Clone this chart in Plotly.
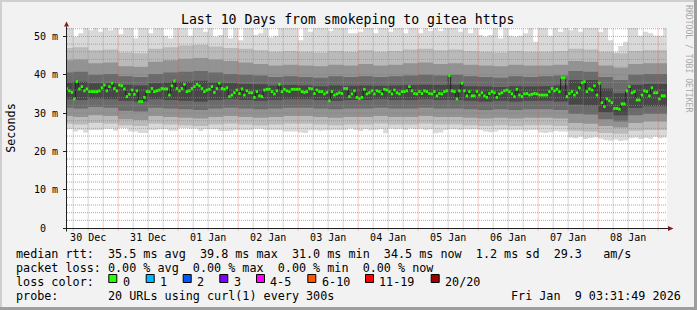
import pandas as pd
import plotly.graph_objects as go

# ---------------- data ----------------
# hourly median RTT (ms), first hour starts 2025-12-30 03:00
median_ms = [
    36.4, 35.8, 35.4, 33.7, 38.2, 36.3, 36.9, 35.8, 36.3, 35.6, 35.6, 35.6, 35.6, 35.8, 36.6, 37.3, 35.8, 36.9, 37.8, 36.4,
    35.8, 37.3, 37.1, 36.3, 34.3, 34.9, 36.0, 34.9, 35.8, 33.0, 33.0, 34.1, 35.6, 35.6, 36.4, 35.6, 35.8, 36.0, 36.4, 36.3,
    36.3, 34.7, 37.1, 38.4, 36.4, 35.8, 36.4, 37.5, 35.6, 35.8, 36.4, 36.9, 37.5, 37.1, 36.4, 35.6, 36.0, 36.2, 36.9, 35.4,
    36.4, 37.8, 36.4, 36.2, 36.6, 34.3, 34.7, 35.3, 36.0, 35.1, 36.3, 34.7, 35.8, 35.3, 35.3, 34.1, 35.6, 34.5, 34.3, 36.0,
    36.2, 36.2, 35.6, 35.0, 35.8, 37.5, 35.6, 36.2, 35.8, 35.6, 36.2, 36.2, 36.2, 36.2, 35.6, 35.4, 35.6, 36.4, 36.3, 35.1,
    36.0, 35.6, 35.6, 35.0, 35.4, 33.2, 35.6, 34.7, 35.0, 35.3, 35.1, 36.4, 36.4, 34.3, 35.0, 35.8, 34.1, 33.8, 34.1, 36.2,
    35.0, 35.3, 35.8, 35.0, 35.8, 35.6, 35.0, 36.2, 36.0, 35.6, 35.0, 36.0, 35.3, 35.0, 35.6, 35.6, 35.8, 36.9, 35.8, 35.1,
    35.0, 35.6, 35.1, 35.8, 35.6, 35.1, 35.0, 35.6, 34.5, 35.1, 35.0, 35.6, 35.8, 39.8, 35.8, 35.6, 33.7, 35.8, 37.8, 35.8,
    34.5, 35.6, 34.5, 34.5, 35.6, 34.7, 35.3, 34.5, 34.1, 35.1, 35.6, 35.3, 34.1, 35.0, 35.3, 35.8, 36.0, 35.6, 35.0, 34.3,
    36.2, 34.7, 34.3, 35.0, 35.1, 34.7, 34.9, 35.1, 35.0, 34.7, 34.7, 34.7, 34.7, 35.6, 36.4, 35.8, 36.2, 35.6, 39.2, 39.2,
    34.3, 35.1, 35.6, 34.7, 35.3, 36.6, 37.9, 38.2, 35.6, 36.3, 36.0, 37.1, 34.7, 37.8, 32.7, 31.7, 33.7, 33.2, 32.7, 31.2,
    31.2, 31.0, 32.4, 32.4, 35.8, 36.9, 35.3, 35.6, 33.4, 33.4, 34.7, 35.8, 35.6, 34.5, 36.6, 35.3, 35.3, 33.7, 34.5, 34.5,
]

# smoke envelope, 2-hour bins starting 2025-12-30 02:00 (max 60 = above the top of the graph)
smoke_max = [
    60, 60, 49.9, 50.8, 60, 51.6, 60, 51.2, 60, 51.6,
    60, 50.6, 60, 60, 49.5, 60, 60, 50.8, 60, 60,
    50.2, 49.5, 60, 60, 60, 50.2, 60, 60, 51.2, 60,
    49.9, 50.4, 60, 49.5, 60, 49.0, 60, 60, 50.4, 50.8,
    60, 49.7, 50.2, 60, 60, 60, 60, 49.0, 60, 51.2,
    60, 60, 60, 51.4, 60, 60, 60, 50.8, 50.8, 51.2,
    60, 60, 50.8, 60, 60, 51.2, 60, 60, 50.8, 60,
    60, 50.8, 60, 51.4, 60, 51.4, 60, 60, 60, 51.2,
    60, 50.8, 60, 50.4, 49.9, 50.4, 60, 49.5, 60, 50.2,
    49.9, 50.2, 50.8, 60, 48.6, 60, 60, 50.2, 60, 51.2,
    60, 51.6, 60, 51.2, 60, 60, 60, 51.2, 60, 49.0,
    46.0, 47.5, 48.6, 60, 60, 50.2, 51.2, 50.8, 50.2, 50.2,
    60,
]
smoke_min = [
    25.8, 25.8, 25.2, 25.6, 24.9, 25.6, 25.6, 25.6, 25.9, 25.9,
    25.4, 26.1, 26.1, 25.2, 25.2, 24.8, 24.8, 25.6, 25.6, 25.8,
    25.8, 25.4, 25.4, 26.1, 26.1, 26.0, 26.0, 25.3, 25.8, 25.8,
    25.8, 25.3, 25.3, 25.4, 25.6, 25.6, 25.6, 25.6, 25.9, 25.9,
    25.6, 25.6, 25.6, 25.5, 25.2, 25.2, 25.2, 24.9, 24.8, 25.5,
    25.5, 25.4, 25.5, 25.5, 25.6, 25.6, 25.6, 26.0, 25.6, 25.3,
    25.8, 25.5, 25.6, 25.8, 24.7, 26.0, 25.8, 25.9, 25.6, 26.0,
    25.8, 25.9, 25.6, 25.8, 24.7, 24.9, 25.6, 25.8, 25.8, 25.6,
    25.8, 25.7, 25.8, 25.6, 25.2, 25.0, 25.2, 25.6, 25.6, 25.5,
    25.6, 25.6, 25.4, 25.6, 25.6, 24.9, 24.8, 25.0, 25.3, 25.2,
    25.2, 23.6, 23.4, 23.8, 23.2, 23.5, 23.7, 23.3, 23.0, 22.8,
    23.1, 22.7, 22.9, 23.4, 23.6, 23.2, 23.5, 23.3, 23.8, 23.4,
    23.6,
]

# inner smoke bands, 6-hour bins starting 2025-12-30 00:00
band_u2 = [47.0, 47.2, 46.4, 46.6, 45.8, 45.6, 46.8, 47.2, 47.6, 47.8, 47.4, 47.0, 46.8, 46.4, 46.0, 46.2, 46.0, 45.8, 46.2, 46.0,
           46.4, 46.0, 46.2, 46.6, 46.8, 46.4, 46.6, 46.2, 46.0, 45.8, 46.2, 46.0, 46.0, 46.2, 46.8, 46.6, 46.0, 45.6, 46.2, 46.4, 46.4]
band_u3 = [43.8, 44.0, 43.0, 43.2, 42.2, 42.0, 43.4, 43.8, 44.2, 44.4, 44.0, 43.6, 43.2, 42.8, 42.4, 42.6, 42.4, 42.2, 42.6, 42.4,
           42.8, 42.4, 42.6, 43.0, 43.2, 42.8, 43.0, 42.6, 42.4, 42.2, 42.6, 42.4, 42.4, 42.6, 43.6, 43.4, 42.4, 41.8, 42.8, 43.0, 43.0]
band_u4 = [40.6, 40.8, 40.0, 40.2, 39.6, 39.4, 40.2, 40.6, 40.8, 41.0, 40.6, 40.2, 40.0, 39.8, 39.4, 39.6, 39.4, 39.2, 39.6, 39.4,
           39.6, 39.4, 39.6, 39.8, 40.0, 39.8, 40.0, 39.6, 39.4, 39.2, 39.6, 39.4, 39.6, 39.8, 41.0, 40.8, 39.4, 38.6, 40.0, 40.2, 40.2]
band_u5 = [38.0, 38.2, 37.8, 37.8, 37.4, 37.2, 37.8, 38.0, 38.2, 38.4, 38.0, 37.8, 37.6, 37.5, 37.2, 37.3, 37.2, 37.0, 37.2, 37.1,
           37.2, 37.1, 37.2, 37.3, 37.4, 37.3, 37.4, 37.0, 36.9, 36.8, 37.0, 36.9, 37.0, 37.2, 38.6, 38.6, 36.4, 35.2, 37.4, 37.6, 37.6]
band_l5 = [33.6, 33.4, 33.8, 33.6, 33.2, 33.0, 33.6, 33.4, 33.2, 33.0, 33.4, 33.6, 33.4, 33.2, 33.4, 33.6, 33.6, 33.4, 33.2, 33.4,
           33.4, 33.6, 33.4, 33.4, 33.6, 33.4, 33.4, 33.2, 33.0, 33.2, 33.0, 33.2, 33.2, 33.0, 32.2, 32.0, 30.2, 29.4, 31.4, 31.8, 31.8]
band_l4 = [31.4, 31.2, 31.6, 31.4, 30.6, 30.4, 31.4, 31.2, 31.0, 30.8, 31.2, 31.4, 31.2, 31.0, 31.2, 31.4, 31.4, 31.2, 31.0, 31.2,
           31.2, 31.4, 31.2, 31.2, 31.4, 31.2, 31.2, 31.0, 30.8, 31.0, 30.8, 31.0, 31.0, 30.8, 29.8, 29.6, 28.4, 27.8, 29.4, 29.8, 29.8]
band_l3 = [29.2, 29.0, 29.4, 29.2, 28.4, 28.2, 29.2, 29.0, 28.8, 28.6, 29.0, 29.2, 29.0, 28.8, 29.0, 29.2, 29.2, 29.0, 28.8, 29.0,
           29.0, 29.2, 29.0, 29.0, 29.2, 29.0, 29.0, 28.8, 28.6, 28.8, 28.6, 28.8, 28.8, 28.6, 27.4, 27.2, 26.6, 26.2, 27.4, 27.8, 27.8]
band_l2 = [27.2, 27.0, 27.4, 27.2, 26.8, 26.6, 27.2, 27.0, 26.8, 26.6, 27.0, 27.2, 27.0, 26.8, 27.0, 27.2, 27.2, 27.0, 26.8, 27.0,
           27.0, 27.2, 27.0, 27.0, 27.2, 27.0, 27.0, 26.8, 26.6, 26.8, 26.6, 26.8, 26.8, 26.6, 25.4, 25.2, 24.8, 24.6, 25.4, 25.6, 25.6]

day_labels = ["30 Dec", "31 Dec", "01 Jan", "02 Jan", "03 Jan", "04 Jan", "05 Jan", "06 Jan", "07 Jan", "08 Jan"]
ytick_vals = [0, 10, 20, 30, 40, 50]
ytick_text = ["0  ", "10 m", "20 m", "30 m", "40 m", "50 m"]

loss_labels = ["0", "1", "2", "3", "4-5", "6-10", "11-19", "20/20"]
loss_colors = ["#26ff00", "#00b8ff", "#0059ff", "#7e00ff", "#ff00ff", "#ff5500", "#ff0000", "#a10000"]

title_text = "Last 10 Days from smokeping to gitea https"
rtt_line = "median rtt:  35.5 ms avg  39.8 ms max  31.0 ms min  34.5 ms now  1.2 ms sd  29.3   am/s"
loss_line = "packet loss: 0.00 % avg  0.00 % max  0.00 % min  0.00 % now"
probe_line = "probe:       20 URLs using curl(1) every 300s"
stamp_text = "Fri Jan  9 03:31:49 2026"

# ---------------- layout helpers ----------------
W, H = 697, 310
L, T, PW, PH = 67, 28, 600, 200
MONO = "DejaVu Sans Mono"


def fx(px):
    return (px - L) / PW


def fy(py):
    return (T + PH - py) / PH


def nb(s):
    return s.replace(" ", "\u00a0")


t_end = pd.Timestamp("2026-01-09 03:31:49")
t_start = t_end - pd.Timedelta(days=10)

hours = pd.date_range("2025-12-30 03:00", periods=len(median_ms), freq="h")
bins2 = pd.date_range("2025-12-30 02:00", periods=len(smoke_max), freq="2h")
bins6 = pd.date_range("2025-12-30 00:00", periods=len(band_u2), freq="6h")


def closed(idx, vals, step):
    xs = list(idx) + [idx[-1] + step]
    ys = list(vals) + [vals[-1]]
    return xs, ys


fig = go.Figure()

bands = [
    (smoke_min, smoke_max, bins2, pd.Timedelta(hours=2), "#d9d9d9"),
    (band_l2, band_u2, bins6, pd.Timedelta(hours=6), "#bababa"),
    (band_l3, band_u3, bins6, pd.Timedelta(hours=6), "#939393"),
    (band_l4, band_u4, bins6, pd.Timedelta(hours=6), "#6b6b6b"),
    (band_l5, band_u5, bins6, pd.Timedelta(hours=6), "#474747"),
]
for lo, hi, idx, step, col in bands:
    xs, ylo = closed(idx, lo, step)
    _, yhi = closed(idx, hi, step)
    fig.add_trace(go.Scatter(x=xs, y=ylo, mode="lines", line=dict(width=0, shape="hv"),
                             hoverinfo="skip", showlegend=False))
    fig.add_trace(go.Scatter(x=xs, y=yhi, mode="lines", line=dict(width=0, shape="hv"),
                             fill="tonexty", fillcolor=col, hoverinfo="skip", showlegend=False))

# thin dark median step line
mx, my = closed(hours, median_ms, pd.Timedelta(hours=1))
fig.add_trace(go.Scatter(x=mx, y=my, mode="lines", line=dict(width=1, color="#202020", shape="hv"),
                         hoverinfo="skip", showlegend=False))

# green median segments (loss 0)
gx, gy = [], []
for i, v in enumerate(median_ms):
    gx += [hours[i], hours[i] + pd.Timedelta(hours=1), None]
    gy += [v, v, None]
fig.add_trace(go.Scatter(x=gx, y=gy, mode="lines", line=dict(width=2.8, color=loss_colors[0]),
                         hoverinfo="skip", showlegend=False))

shapes = []
GRID = "rgba(143,143,143,0.75)"
MGRID = "rgba(222,79,79,0.6)"
DOT = "1px,1px"

# vertical grid every 6 h, red at midnight
for t in pd.date_range("2025-12-30 06:00", "2026-01-09 00:00", freq="6h"):
    major = t.hour == 0
    shapes.append(dict(type="line", xref="x", yref="paper", x0=t, x1=t, y0=fy(230.5), y1=1,
                       line=dict(color=MGRID if major else GRID, width=1, dash=DOT), layer="above"))
# horizontal grid every 2 ms, red every 10 ms
for v in range(2, 53, 2):
    major = v % 10 == 0
    shapes.append(dict(type="line", xref="paper", yref="y", x0=0, x1=1, y0=v, y1=v,
                       line=dict(color=MGRID if major else GRID, width=1, dash=DOT), layer="above"))

AX = "#1f1f1f"
ARROW = "#801f1f"
# axes
shapes.append(dict(type="line", xref="paper", yref="paper", x0=fx(63), x1=fx(668), y0=fy(228.5), y1=fy(228.5),
                   line=dict(color=AX, width=1), layer="above"))
shapes.append(dict(type="line", xref="paper", yref="paper", x0=fx(66.5), x1=fx(66.5), y0=fy(231.5), y1=fy(26.5),
                   line=dict(color=AX, width=1), layer="above"))
shapes.append(dict(type="path", xref="paper", yref="paper",
                   path=f"M {fx(668)},{fy(226)} L {fx(668)},{fy(231)} L {fx(673.5)},{fy(228.5)} Z",
                   fillcolor=ARROW, line=dict(width=0), layer="above"))
shapes.append(dict(type="path", xref="paper", yref="paper",
                   path=f"M {fx(64)},{fy(26.5)} L {fx(69)},{fy(26.5)} L {fx(66.5)},{fy(21.5)} Z",
                   fillcolor=ARROW, line=dict(width=0), layer="above"))

# 3D frame
shapes += [
    dict(type="rect", xref="paper", yref="paper", x0=fx(0), x1=fx(W), y0=fy(0), y1=fy(2),
         fillcolor="#cfcfcf", line=dict(width=0), layer="above"),
    dict(type="rect", xref="paper", yref="paper", x0=fx(0), x1=fx(2), y0=fy(0), y1=fy(H),
         fillcolor="#cfcfcf", line=dict(width=0), layer="above"),
    dict(type="rect", xref="paper", yref="paper", x0=fx(W - 3), x1=fx(W), y0=fy(0), y1=fy(H),
         fillcolor="#9e9e9e", line=dict(width=0), layer="above"),
    dict(type="rect", xref="paper", yref="paper", x0=fx(0), x1=fx(W), y0=fy(H - 3), y1=fy(H),
         fillcolor="#9e9e9e", line=dict(width=0), layer="above"),
]

annotations = []


def text(px, py, s, size=11.76, anchor="left", color="#000000", angle=0):
    annotations.append(dict(x=fx(px), y=fy(py), xref="paper", yref="paper", text=nb(s), showarrow=False,
                            xanchor=anchor, yanchor="middle", textangle=angle, borderpad=0, borderwidth=0,
                            font=dict(family=MONO, size=size, color=color)))


text(15.5, 254.2, rtt_line)
text(15.5, 268.2, loss_line)
text(15.5, 281.6, "loss color:")
text(15.5, 296.0, probe_line)
text(680.5, 296.0, stamp_text, anchor="right")

box_left = [108.3, 145.7, 182.7, 219.3, 256.0, 307.3, 365.0, 430.7]
for bx, lab, col in zip(box_left, loss_labels, loss_colors):
    shapes.append(dict(type="rect", xref="paper", yref="paper", x0=fx(bx + 0.5), x1=fx(bx + 8.5),
                       y0=fy(274.5), y1=fy(282.5), fillcolor=col, line=dict(color="#000000", width=1),
                       layer="above"))
    text(bx + 14.2, 281.6, lab)

text(10.8, 128, "Seconds", anchor="center", angle=-90)
text(688.4, 58.5, "RRDTOOL / TOBI OETIKER", size=8.1, anchor="center", color="#a8a8a8", angle=90)

noons = pd.date_range("2025-12-30 12:00", periods=len(day_labels), freq="D")

fig.update_layout(
    width=W, height=H,
    margin=dict(l=L, r=W - L - PW, t=T, b=H - T - PH, pad=0, autoexpand=False),
    paper_bgcolor="#f2f2f2", plot_bgcolor="#ffffff", showlegend=False,
    title=dict(text=title_text, x=347.7 / W, y=1 - 19.4 / H, xref="container", yref="container",
               xanchor="center", yanchor="middle", font=dict(family=MONO, size=13.2, color="#000000")),
    xaxis=dict(type="date", range=[t_start, t_end], tickvals=list(noons), ticktext=day_labels,
               ticks="", showgrid=False, zeroline=False, showline=False, ticklabelstandoff=2,
               tickfont=dict(family=MONO, size=10, color="#000000"), fixedrange=True),
    yaxis=dict(range=[0, 52.2], tickvals=ytick_vals, ticktext=[nb(s) for s in ytick_text],
               ticks="outside", ticklen=3, tickcolor=AX, tickwidth=1, ticklabelstandoff=3,
               showgrid=False, zeroline=False, showline=False,
               tickfont=dict(family=MONO, size=10, color="#000000"), fixedrange=True),
    shapes=shapes, annotations=annotations,
)

fig.write_html("out.html")
